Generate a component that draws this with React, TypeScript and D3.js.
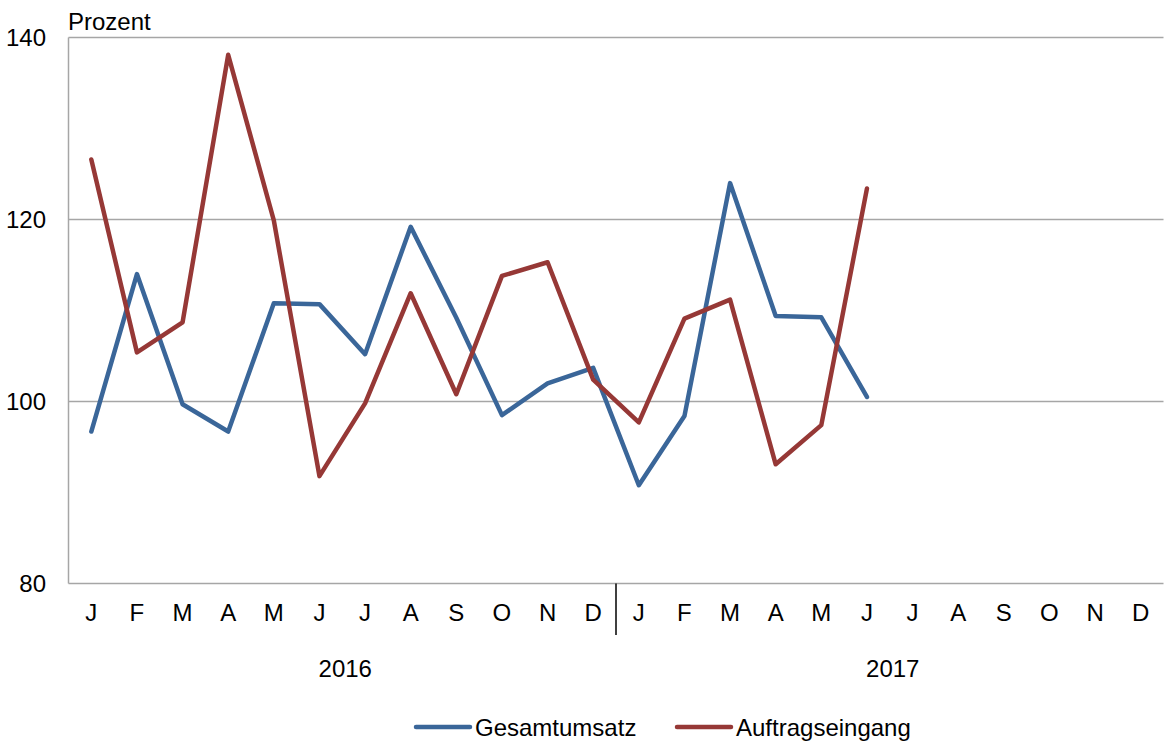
import React from "react";
import * as d3 from "d3";

const months = ["J", "F", "M", "A", "M", "J", "J", "A", "S", "O", "N", "D"];
const years = ["2016", "2017"];
const yTicks = [80, 100, 120, 140];
const gesamtumsatz = [96.7, 114.0, 99.7, 96.7, 110.8, 110.7, 105.2, 119.2, 109.2, 98.5, 102.0, 103.7, 90.8, 98.4, 124.0, 109.4, 109.25, 100.5];
const auftragseingang = [126.6, 105.4, 108.7, 138.1, 119.9, 91.8, 99.8, 111.9, 100.8, 113.8, 115.3, 102.4, 97.7, 109.1, 111.2, 93.1, 97.4, 123.4];
const seriesNames = ["Gesamtumsatz", "Auftragseingang"];
const colors = ["#3a6699", "#963836"];

const W = 1167;
const H = 742;
const left = 68.5;
const right = 1163.5;
const top = 37.5;
const bottom = 583.5;
const FONT = "'Liberation Sans', Arial, sans-serif";
const FS = 24;

export default function App() {
  const n = months.length * years.length;
  const idx = d3.range(n);
  const x = d3.scaleBand<number>().domain(idx).range([left, right]).padding(0);
  const y = d3.scaleLinear().domain([80, 140]).range([bottom, top]);
  const cx = (i: number) => (x(i) as number) + x.bandwidth() / 2;
  const line = d3
    .line<number>()
    .x((_, i) => cx(i))
    .y((d) => y(d));
  const series = [gesamtumsatz, auftragseingang];
  const yearStart = (k: number) => x(k * 12) as number;
  const yearEnd = (k: number) => (k * 12 + 12 >= n ? right : (x(k * 12 + 12) as number));

  return (
    <svg
      width={W}
      height={H}
      style={{ position: "absolute", left: 0, top: 0, background: "#fff" }}
      fontFamily={FONT}
    >
      {yTicks.map((t) => (
        <g key={t}>
          {t !== 80 && (
            <line x1={left} x2={right} y1={y(t)} y2={y(t)} stroke="#a6a6a6" strokeWidth={1.5} />
          )}
          <text x={46} y={y(t)} dy="0.36em" textAnchor="end" fontSize={FS} fill="#000">
            {t}
          </text>
        </g>
      ))}
      <line x1={left} x2={left} y1={top} y2={bottom} stroke="#a6a6a6" strokeWidth={1.5} />
      <line x1={left} x2={right} y1={bottom} y2={bottom} stroke="#a6a6a6" strokeWidth={1.5} />
      <text x={68} y={30} fontSize={FS} fill="#000">
        Prozent
      </text>
      {idx.map((i) => (
        <text key={i} x={cx(i)} y={621} textAnchor="middle" fontSize={FS} fill="#000">
          {months[i % 12]}
        </text>
      ))}
      {years.map((yr, k) => (
        <text
          key={yr}
          x={(yearStart(k) + yearEnd(k)) / 2 + 3}
          y={677}
          textAnchor="middle"
          fontSize={FS}
          fill="#000"
        >
          {yr}
        </text>
      ))}
      {years.slice(1).map((yr, k) => (
        <line
          key={yr}
          x1={yearStart(k + 1)}
          x2={yearStart(k + 1)}
          y1={bottom}
          y2={635}
          stroke="#000"
          strokeWidth={1.5}
        />
      ))}
      {series.map((s, k) => (
        <path
          key={k}
          d={line(s) as string}
          fill="none"
          stroke={colors[k]}
          strokeWidth={4.5}
          strokeLinejoin="round"
          strokeLinecap="round"
        />
      ))}
      {seriesNames.map((name, k) => {
        const lx = [416, 677][k];
        return (
          <g key={name}>
            <line x1={lx} x2={lx + 54} y1={727} y2={727} stroke={colors[k]} strokeWidth={4.5} strokeLinecap="round" />
            <text x={lx + 59} y={736} fontSize={FS} fill="#000">
              {name}
            </text>
          </g>
        );
      })}
    </svg>
  );
}
